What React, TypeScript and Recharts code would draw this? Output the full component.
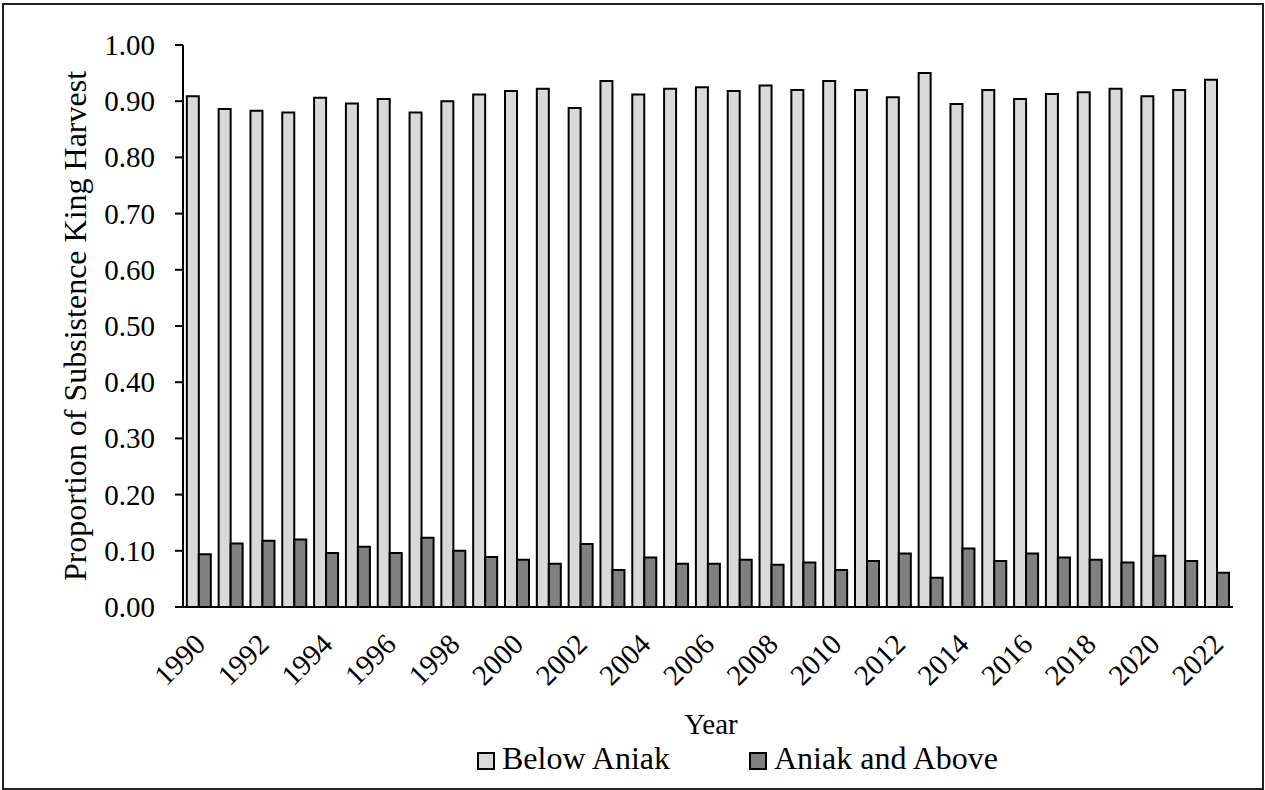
import React from 'react';
import { BarChart, Bar, XAxis, YAxis, Legend, Label } from 'recharts';

const years: string[] = [
  '1990','1991','1992','1993','1994','1995','1996','1997','1998','1999',
  '2000','2001','2002','2003','2004','2005','2006','2007','2008','2009',
  '2010','2011','2012','2013','2014','2015','2016','2017','2018','2019',
  '2020','2021','2022',
];

const belowAniak: number[] = [
  0.909, 0.886, 0.883, 0.880, 0.906, 0.896, 0.904, 0.880, 0.900, 0.912,
  0.918, 0.922, 0.888, 0.936, 0.912, 0.922, 0.925, 0.918, 0.928, 0.920,
  0.936, 0.920, 0.907, 0.950, 0.895, 0.920, 0.904, 0.913, 0.916, 0.922,
  0.909, 0.920, 0.938,
];

const aniakAndAbove: number[] = [
  0.094, 0.113, 0.118, 0.120, 0.096, 0.107, 0.096, 0.123, 0.100, 0.089,
  0.084, 0.077, 0.112, 0.066, 0.088, 0.077, 0.077, 0.084, 0.075, 0.079,
  0.066, 0.082, 0.095, 0.052, 0.104, 0.082, 0.095, 0.088, 0.084, 0.079,
  0.091, 0.082, 0.061,
];

const yTicks: number[] = [0, 0.1, 0.2, 0.3, 0.4, 0.5, 0.6, 0.7, 0.8, 0.9, 1.0];

const seriesOrder: string[] = ['below', 'above'];

const data = years.map((y, i) => ({ year: y, below: belowAniak[i], above: aniakAndAbove[i] }));

const FONT = "'Liberation Serif', 'Times New Roman', serif";
const FS = 29;
const FS_TITLE = 32;

const XTick = (props: any) => {
  const { x, y, payload } = props;
  const ax = x + 8;
  const ay = y + 39;
  return (
    <text
      x={ax}
      y={ay}
      textAnchor="end"
      style={{ fontFamily: FONT, fontSize: FS }}
      fill="#000"
      transform={`rotate(-45, ${ax}, ${ay})`}
    >
      {payload.value}
    </text>
  );
};

const YTick = (props: any) => {
  const { x, y, payload } = props;
  return (
    <text
      x={x}
      y={y}
      textAnchor="end"
      dominantBaseline="central"
      style={{ fontFamily: FONT, fontSize: FS }}
      fill="#000"
    >
      {Number(payload.value).toFixed(2)}
    </text>
  );
};

const legendLeft = [477, 749];

const LegendContent = (props: any) => {
  const raw = props.payload || [];
  const payload = seriesOrder
    .map((k) => raw.find((e: any) => e.dataKey === k))
    .filter(Boolean);
  return (
    <div style={{ position: 'relative', width: 1265, height: 0 }}>
      {payload.map((e: any, i: number) => (
        <React.Fragment key={i}>
          <div
            style={{
              position: 'absolute',
              left: legendLeft[i],
              top: 752,
              width: 18,
              height: 18,
              boxSizing: 'border-box',
              border: '2px solid #000',
              background: e.color,
            }}
          />
          <div
            style={{
              position: 'absolute',
              left: legendLeft[i] + 25,
              top: 742,
              fontFamily: FONT,
              fontSize: FS_TITLE,
              lineHeight: `${FS_TITLE}px`,
              color: '#000',
              whiteSpace: 'nowrap',
            }}
          >
            {e.value}
          </div>
        </React.Fragment>
      ))}
    </div>
  );
};

export default function App() {
  return (
    <div style={{ position: 'absolute', left: 0, top: 0, width: 1265, height: 790, background: '#fff', fontFamily: FONT }}>
      <div
        style={{
          position: 'absolute',
          left: 2,
          top: 3,
          width: 1262,
          height: 787,
          boxSizing: 'border-box',
          border: '2px solid #222',
        }}
      />
      <BarChart
        width={1265}
        height={790}
        data={data}
        margin={{ top: 45, right: 32, bottom: 0, left: 0 }}
        barCategoryGap="12%"
        barGap={0}
        style={{ fontFamily: FONT }}
      >
        <XAxis
          dataKey="year"
          interval={1}
          height={183}
          tickLine={false}
          tickSize={0}
          tickMargin={0}
          axisLine={{ stroke: '#000', strokeWidth: 2 }}
          tick={<XTick />}
        >
          <Label
            content={(p: any) => {
              const vb = p.viewBox;
              return (
                <text
                  x={vb.x + vb.width / 2 + 3}
                  y={vb.y + 127}
                  textAnchor="middle"
                  style={{ fontFamily: FONT, fontSize: FS }}
                  fill="#000"
                >
                  Year
                </text>
              );
            }}
          />
        </XAxis>
        <YAxis
          width={183}
          domain={[0, 1]}
          ticks={yTicks}
          interval={0}
          tickSize={8}
          tickMargin={20}
          tick={<YTick />}
          axisLine={{ stroke: '#000', strokeWidth: 2 }}
          tickLine={{ stroke: '#000', strokeWidth: 2 }}
        >
          <Label
            content={(p: any) => {
              const vb = p.viewBox;
              const cx = 86;
              const cy = vb.y + vb.height / 2;
              return (
                <text
                  x={cx}
                  y={cy}
                  textAnchor="middle"
                  style={{ fontFamily: FONT, fontSize: FS_TITLE }}
                  fill="#000"
                  transform={`rotate(-90, ${cx}, ${cy})`}
                >
                  Proportion of Subsistence King Harvest
                </text>
              );
            }}
          />
        </YAxis>
        <Legend
          content={<LegendContent />}
          wrapperStyle={{ position: 'absolute', left: 0, top: 0, width: 1265, height: 0 }}
        />
        <Bar
          dataKey="below"
          name="Below Aniak"
          fill="#D9D9D9"
          stroke="#000"
          strokeWidth={2}
          isAnimationActive={false}
        />
        <Bar
          dataKey="above"
          name="Aniak and Above"
          fill="#808080"
          stroke="#000"
          strokeWidth={2}
          isAnimationActive={false}
        />
      </BarChart>
    </div>
  );
}
